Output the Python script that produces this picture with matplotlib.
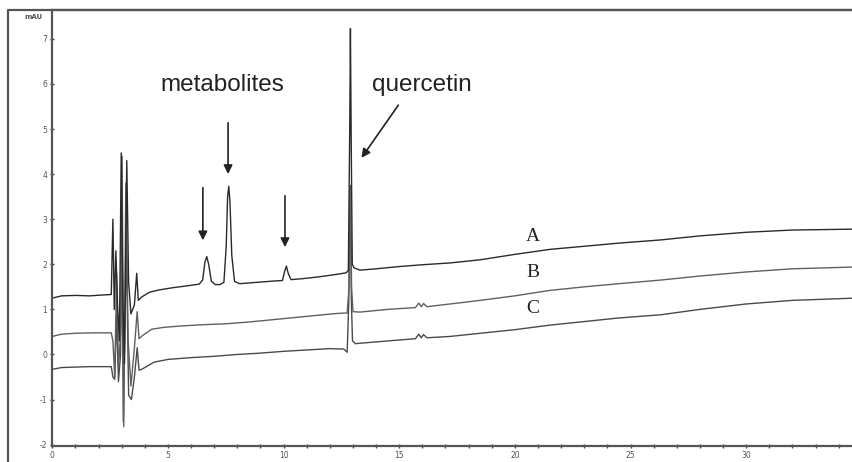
import matplotlib
matplotlib.use("Agg")
import matplotlib.pyplot as plt
from matplotlib.lines import Line2D
from matplotlib.ticker import MultipleLocator

plt.rcParams['axes.unicode_minus'] = False

# chromatogram vertices: (time in min, signal in mAU)
trace_a = [(0, 1.25), (0.4, 1.30), (1.0, 1.31), (1.6, 1.30), (2.2, 1.32), (2.55, 1.33),
           (2.62, 3.0), (2.68, 1.0), (2.75, 2.3), (2.82, 1.1), (2.9, 0.3), (2.98, 4.47),
           (3.05, 1.3), (3.12, -0.2), (3.22, 4.3), (3.3, 1.6), (3.4, 0.9), (3.55, 1.1),
           (3.65, 1.8), (3.72, 1.2), (3.85, 1.27), (4.2, 1.38), (4.6, 1.43), (5.2, 1.48),
           (5.8, 1.52), (6.35, 1.56), (6.5, 1.65), (6.6, 2.05), (6.68, 2.17), (6.76, 2.0),
           (6.88, 1.62), (7.05, 1.55), (7.25, 1.55), (7.42, 1.6), (7.52, 2.4), (7.58, 3.5),
           (7.63, 3.73), (7.68, 3.4), (7.76, 2.2), (7.88, 1.62), (8.1, 1.57), (8.6, 1.59),
           (9.1, 1.61), (9.6, 1.63), (9.95, 1.64), (10.05, 1.85), (10.12, 1.96), (10.2, 1.8),
           (10.32, 1.66), (10.8, 1.68), (11.5, 1.72), (12.2, 1.77), (12.7, 1.81), (12.8, 1.86),
           (12.86, 5.0), (12.89, 7.23), (12.92, 5.0), (12.97, 2.0), (13.05, 1.92), (13.3, 1.87),
           (14, 1.90), (15, 1.95), (16, 1.99), (17.2, 2.03), (18.5, 2.10), (20, 2.22),
           (21.5, 2.33), (23, 2.40), (24.5, 2.47), (26.3, 2.54), (28, 2.63), (30, 2.71),
           (32, 2.76), (34.7, 2.78)]

trace_b = [(0, 0.40), (0.4, 0.45), (1.0, 0.47), (1.8, 0.48), (2.55, 0.48), (2.62, 0.3),
           (2.7, -0.5), (2.78, 1.8), (2.86, -0.3), (2.96, 0.5), (3.02, 4.4), (3.09, -1.6),
           (3.18, 3.8), (3.28, 0.3), (3.4, -0.7), (3.55, 0.15), (3.67, 0.95), (3.75, 0.35),
           (3.9, 0.42), (4.3, 0.56), (4.8, 0.60), (5.5, 0.63), (6.5, 0.66), (7.5, 0.68),
           (8.5, 0.72), (9.5, 0.77), (10.5, 0.82), (11.5, 0.87), (12.3, 0.91), (12.75, 0.92),
           (12.83, 1.5), (12.89, 3.7), (12.94, 1.5), (13.0, 0.95), (13.3, 0.94), (14.5, 1.0),
           (15.7, 1.04), (15.85, 1.14), (15.95, 1.06), (16.05, 1.13), (16.2, 1.06), (17.2, 1.12),
           (18.5, 1.2), (20, 1.3), (21.5, 1.42), (23, 1.5), (24.5, 1.57), (26.3, 1.65),
           (28, 1.74), (30, 1.83), (32, 1.9), (34.7, 1.94)]

trace_c = [(0, -0.33), (0.4, -0.29), (1.0, -0.28), (1.6, -0.27), (2.55, -0.27), (2.62, -0.5),
           (2.7, -0.55), (2.78, 0.9), (2.86, -0.6), (2.95, 0.0), (3.0, 3.2), (3.07, -1.5),
           (3.2, 2.5), (3.3, -0.9), (3.42, -1.0), (3.55, -0.5), (3.67, 0.15), (3.75, -0.35),
           (3.9, -0.32), (4.4, -0.17), (5.0, -0.11), (6, -0.07), (7, -0.04), (8, 0.0),
           (9, 0.03), (10, 0.07), (11, 0.10), (12, 0.13), (12.6, 0.12), (12.75, 0.05),
           (12.82, 1.2), (12.88, 3.75), (12.93, 1.2), (12.98, 0.3), (13.1, 0.24), (14.5, 0.3),
           (15.7, 0.35), (15.85, 0.45), (15.95, 0.37), (16.05, 0.44), (16.2, 0.37), (17.2, 0.40),
           (18.5, 0.47), (20, 0.55), (21.5, 0.65), (23, 0.73), (24.5, 0.81), (26.3, 0.88),
           (28, 1.0), (30, 1.12), (32, 1.2), (34.7, 1.25)]

trace_names = ["A", "B", "C"]
label_pos = [(20.78, 2.61), (20.78, 1.81), (20.78, 1.03)]

# arrows: (tail time, tail value, head time, head value)
metabolite_arrows = [(6.51, 3.76, 6.51, 2.47), (7.60, 5.20, 7.60, 3.94), (10.06, 3.58, 10.06, 2.32)]
quercetin_arrow = (15.03, 5.58, 13.30, 4.31)

fig = plt.figure(figsize=(8.53, 4.62), dpi=100)
ax = fig.add_axes([52.3 / 853, 1 - 446 / 462, 1 - 52.3 / 853, (446 - 10) / 462])

for trace, col in zip([trace_c, trace_b, trace_a], ["#4a4a4a", "#606060", "#2a2a2a"]):
    t = [p[0] for p in trace]
    v = [p[1] for p in trace]
    ax.plot(t, v, color=col, lw=1.0)

for name, (x, y) in zip(trace_names, label_pos):
    ax.text(x, y, name, family="Liberation Serif", fontsize=14, color="#222",
            ha="center", va="center")

for x0, y0, x1, y1 in metabolite_arrows:
    ax.annotate("", xy=(x1, y1), xytext=(x0, y0),
                arrowprops=dict(arrowstyle="-|>", color="#222", lw=1.2, mutation_scale=13))
x0, y0, x1, y1 = quercetin_arrow
ax.annotate("", xy=(x1, y1), xytext=(x0, y0),
            arrowprops=dict(arrowstyle="-|>", color="#222", lw=1.2, mutation_scale=13))

ax.text(7.34, 5.98, "metabolites", family="Liberation Sans", fontsize=17.5, color="#222",
        ha="center", va="center")
ax.text(15.98, 5.98, "quercetin", family="Liberation Sans", fontsize=17.5, color="#222",
        ha="center", va="center")

ax.set_xlim(0, 34.62)
ax.set_ylim(-2.03, 7.64)
ax.set_yticks(range(-2, 8))
ax.xaxis.set_major_locator(MultipleLocator(5))
ax.xaxis.set_minor_locator(MultipleLocator(1))
ax.tick_params(axis="both", which="both", direction="inout", length=3, width=1,
               color="#444", labelsize=5.5, labelcolor="#555", pad=2)
ax.tick_params(axis="y", which="minor", left=False)
ax.text(-0.012, 0.985, "mAU", transform=ax.transAxes, fontsize=5, color="#555",
        ha="right", va="center", fontweight="bold")

ax.spines["right"].set_visible(False)
for s in ["left", "bottom", "top"]:
    ax.spines[s].set_color("#555")
    ax.spines[s].set_linewidth(1.6)

# outer frame of the original figure
fig.add_artist(Line2D([8 / 853, 8 / 853, 1], [0, 1 - 10 / 462, 1 - 10 / 462],
                      color="#555", lw=1.6))

fig.savefig("out.png", dpi=100)
